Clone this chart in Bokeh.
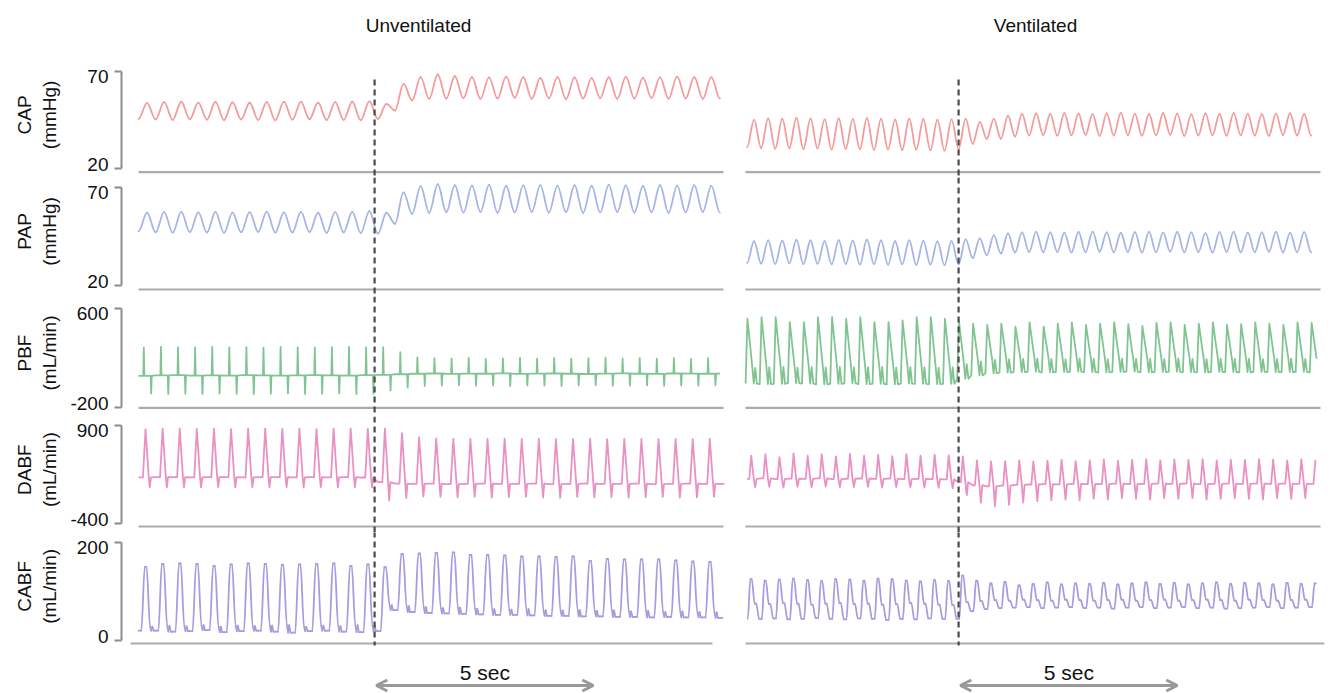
import math
from bokeh.plotting import figure
from bokeh.layouts import column, row
from bokeh.models import Range1d, FixedTicker, Span, Label, Arrow, OpenHead
from bokeh.core.properties import value
from bokeh.embed import file_html
from bokeh.resources import INLINE

# ---------------- data ----------------
panel_titles = ["Unventilated", "Ventilated"]
beat_period = [0.394, 0.325]          # s per beat (left, right)
first_beat = [0.0, 0.035]             # s
trace_end = [13.50, 13.18]            # s
event_time = [5.44, 4.91]             # s (dashed line)
scale_bar_start = [5.48, 4.95]        # s
scale_bar_sec = 5
scale_bar_label = "5 sec"

channels = ["CAP", "PAP", "PBF", "DABF", "CABF"]
units = ["(mmHg)", "(mmHg)", "(mL/min)", "(mL/min)", "(mL/min)"]
tick_lo = [20, 20, -200, -400, 0]
tick_hi = [70, 70, 600, 900, 200]

# ---- Unventilated (14 beats before event, 21 after) ----
L_CAP_hi = [53.6, 54.1, 54.3, 53.9, 54.2, 54.0, 53.8, 54.1, 54.4, 54.2, 53.9, 54.1, 54.3, 54.5,
            53.2, 63.5, 67.0, 68.3, 67.4, 67.0, 66.8, 67.2, 66.9, 66.5, 67.0, 66.8, 66.4, 66.9, 67.1, 66.6, 66.8, 67.2, 66.9, 67.0, 66.5]
L_CAP_lo = [45.5, 45.2, 45.0, 45.3, 45.1, 44.9, 45.2, 45.0, 44.8, 45.1, 45.3, 44.9, 45.0, 44.8,
            45.5, 49.8, 55.0, 55.8, 56.0, 56.2, 55.8, 56.0, 56.3, 55.9, 56.1, 55.7, 56.0, 56.2, 55.8, 56.0, 56.3, 55.9, 56.1, 55.8, 56.0]
L_PAP_hi = [57.0, 57.3, 57.5, 57.2, 57.4, 57.1, 57.3, 57.6, 57.2, 57.4, 57.0, 57.3, 57.5, 57.8,
            57.0, 67.4, 70.5, 71.5, 71.0, 70.8, 71.2, 70.6, 70.9, 71.1, 70.7, 71.0, 70.8, 71.2, 70.9, 70.6, 71.0, 70.8, 71.1, 70.7, 70.9]
L_PAP_lo = [47.5, 47.1, 46.9, 47.2, 47.0, 46.8, 47.1, 47.3, 46.9, 47.0, 47.2, 46.8, 47.0, 46.7,
            46.4, 51.4, 56.5, 57.0, 57.3, 57.1, 57.4, 57.0, 57.2, 57.5, 57.1, 57.3, 57.0, 57.2, 57.4, 57.1, 57.3, 57.0, 57.2, 57.4, 57.1]
L_PBF_hi = [285, 290, 288, 286, 291, 287, 289, 285, 290, 288, 286, 289, 291, 287,
            288, 247, 205, 198, 195, 200, 193, 197, 201, 195, 199, 194, 198, 202, 196, 200, 195, 199, 193, 198, 201]
L_PBF_mid = [55, 58, 60, 57, 59, 56, 60, 58, 57, 59, 61, 58, 57, 60,
             62, 68, 72, 74, 71, 73, 72, 75, 71, 73, 74, 72, 70, 73, 75, 72, 71, 74, 73, 72, 74]
L_PBF_lo = [-88, -92, -90, -93, -89, -91, -94, -90, -88, -92, -90, -89, -93, -91,
            -64, -40, -28, -25, -22, -26, -24, -27, -23, -25, -28, -24, -22, -26, -25, -23, -27, -24, -26, -22, -25]
L_DABF_hi = [850, 857, 860, 855, 858, 852, 857, 860, 855, 858, 853, 857, 860, 856,
             860, 800, 745, 730, 725, 724, 722, 726, 722, 725, 720, 722, 726, 720, 722, 724, 720, 723, 720, 724, 722]
L_DABF_mid = [214, 218, 216, 215, 217, 216, 213, 218, 216, 215, 217, 214, 216, 212,
              150, 132, 128, 130, 126, 129, 131, 127, 129, 130, 126, 128, 131, 127, 129, 130, 126, 128, 130, 127, 129]
L_DABF_lo = [84, 80, 86, 82, 85, 81, 84, 83, 86, 80, 84, 82, 85, 83,
             -92, -60, -40, -45, -50, -42, -55, -48, -45, -52, -58, -44, -50, -47, -55, -49, -46, -53, -50, -45, -52]
L_CABF_hi = [150, 156, 157, 156, 152, 155, 157, 156, 154, 155, 156, 157, 152, 155,
             149, 176, 177, 178, 179, 174, 174, 173, 171, 171, 170, 171, 162, 166, 165, 165, 165, 163, 161, 160, 158]
L_CABF_mid = [28, 30, 29, 31, 28, 30, 29, 30, 31, 28, 30, 29, 31, 30,
              72, 70, 68, 66, 67, 65, 64, 63, 64, 62, 61, 62, 60, 61, 59, 60, 58, 59, 58, 57, 58]
L_CABF_lo = [20, 18, 19, 21, 17, 19, 20, 18, 16, 19, 20, 18, 17, 19,
             62, 58, 56, 55, 54, 53, 52, 52, 51, 50, 50, 49, 49, 48, 48, 47, 48, 47, 47, 46, 47]

# ---- Ventilated (15 beats before event, 26 after) ----
R_CAP_hi = [45.0, 45.8, 45.5, 46.0, 45.6, 45.2, 45.8, 45.4, 45.9, 45.5, 45.1, 45.6, 45.3, 45.0, 45.2,
            45.5, 43.8, 45.5, 47.2, 48.1, 48.3, 48.0, 48.5, 48.2, 47.9, 48.3, 48.6, 48.1, 48.0, 48.4, 48.2, 47.8, 48.3, 48.0, 48.5, 48.1, 47.9, 48.2, 48.4, 48.0, 47.7]
R_CAP_lo = [31.0, 30.5, 30.2, 30.4, 30.0, 30.3, 29.8, 30.1, 30.0, 29.6, 29.9, 29.5, 29.8, 29.4, 29.2,
            30.1, 32.7, 35.3, 35.3, 36.5, 37.0, 37.2, 36.9, 37.1, 37.3, 36.8, 37.0, 37.2, 36.9, 37.1, 37.4, 36.8, 37.0, 37.2, 36.9, 37.1, 37.0, 36.8, 37.2, 37.0, 36.9]
R_PAP_hi = [42.5, 43.0, 42.8, 43.2, 42.9, 42.6, 43.1, 42.8, 43.3, 42.9, 42.5, 43.0, 42.7, 42.4, 42.6,
            43.5, 44.0, 45.5, 46.5, 47.0, 47.3, 47.0, 46.8, 47.2, 47.4, 47.0, 46.7, 47.1, 47.3, 46.9, 47.2, 47.0, 46.6, 47.1, 47.3, 46.9, 47.0, 47.2, 46.8, 47.1, 46.9]
R_PAP_lo = [31.5, 31.2, 31.0, 31.3, 30.9, 31.1, 30.8, 31.0, 30.7, 30.9, 30.6, 30.8, 30.5, 30.7, 30.4,
            30.8, 34.0, 35.5, 36.3, 36.8, 37.0, 36.9, 37.1, 36.8, 37.0, 37.2, 36.9, 37.1, 36.8, 37.0, 37.2, 36.9, 37.0, 36.8, 37.1, 36.9, 37.0, 37.2, 36.8, 37.0, 36.9]
R_PBF_hi = [519, 532, 532, 491, 491, 532, 532, 519, 532, 491, 491, 505, 532, 532, 519,
            495, 480, 470, 480, 455, 490, 455, 480, 490, 470, 480, 490, 475, 460, 485, 490, 470, 480, 490, 470, 475, 490, 480, 470, 490, 485]
R_PBF_mid = [120, 125, 128, 122, 126, 124, 127, 123, 125, 128, 122, 126, 124, 121, 125,
             150, 172, 185, 190, 193, 195, 192, 190, 196, 193, 191, 195, 192, 194, 190, 196, 193, 191, 195, 192, 194, 190, 193, 195, 192, 194]
R_PBF_lo = [-8, -12, -10, -5, -9, -14, -10, -7, -12, -10, -15, -9, -11, -13, -10,
            30, 58, 75, 82, 85, 88, 84, 86, 90, 85, 83, 87, 89, 84, 86, 88, 85, 83, 87, 86, 84, 88, 85, 86, 87, 84]
R_DABF_hi = [500, 520, 480, 530, 500, 520, 490, 525, 500, 510, 495, 520, 500, 515, 505,
             490, 440, 425, 430, 440, 425, 435, 445, 430, 440, 450, 435, 445, 455, 440, 450, 445, 455, 440, 450, 445, 455, 450, 440, 455, 445]
R_DABF_mid = [195, 200, 190, 198, 194, 202, 192, 196, 199, 193, 197, 191, 195, 190, 188,
              150, 110, 95, 105, 115, 120, 125, 122, 128, 124, 126, 130, 125, 128, 132, 127, 130, 126, 129, 132, 128, 130, 127, 131, 129, 128]
R_DABF_lo = [84, 90, 80, 88, 82, 92, 86, 84, 90, 80, 86, 82, 78, 74, 70,
             -20, -120, -170, -150, -120, -100, -90, -80, -90, -70, -80, -60, -70, -80, -60, -70, -60, -80, -70, -60, -70, -80, -60, -70, -60, -70]
R_CABF_hi = [125, 122, 124, 126, 123, 121, 125, 124, 122, 126, 125, 122, 120, 123, 121,
             132, 122, 116, 119, 112, 115, 118, 114, 116, 115, 117, 114, 116, 118, 115, 117, 114, 116, 118, 115, 117, 116, 114, 117, 115, 116]
R_CABF_mid = [75, 74, 76, 75, 73, 75, 76, 74, 75, 73, 74, 76, 75, 73, 72,
              78, 80, 82, 81, 83, 82, 81, 83, 82, 81, 82, 83, 81, 82, 83, 81, 82, 83, 82, 81, 83, 82, 81, 82, 83, 82]
R_CABF_lo = [44, 45, 43, 44, 46, 44, 43, 45, 44, 42, 44, 43, 45, 44, 44,
             60, 64, 66, 67, 68, 66, 67, 68, 66, 67, 65, 67, 68, 66, 67, 68, 66, 67, 65, 66, 67, 68, 66, 67, 68, 66]

# ---------------- beat shapes (phase within beat -> which level) ----------------
TPL_PRESS = [(0.0, "lo"), (0.5, "hi")]
TPL = {
    (0, "CAP"): TPL_PRESS, (0, "PAP"): TPL_PRESS,
    (0, "PBF"): [(0.00, "mid"), (0.28, "mid"), (0.31, "hi"), (0.345, "mid"), (0.71, "mid"), (0.74, "lo"), (0.775, "mid")],
    (0, "DABF"): [(0.00, "mid"), (0.26, "mid"), (0.41, "hi"), (0.60, "mid"), (0.66, "lo"), (0.73, "mid")],
    (0, "CABF"): [(0.00, "plo"), (0.16, "plo"), (0.37, "hi"), (0.47, "hi"), (0.68, "mid"), (0.75, "lo"), (0.81, "mid"), (0.89, "lo")],
    (1, "CAP"): TPL_PRESS, (1, "PAP"): TPL_PRESS,
    (1, "PBF"): [(-0.10, "lo"), (0.03, "hi"), (0.38, "mid"), (0.48, "lo"), (0.58, "mid"), (0.70, "lo")],
    (1, "DABF"): [(0.00, "mid"), (0.16, "mid"), (0.30, "hi"), (0.48, "mid"), (0.58, "lo"), (0.68, "mid")],
    (1, "CABF"): [(0.05, "plo"), (0.24, "hi"), (0.33, "hi"), (0.55, "mid"), (0.65, "mid"), (0.86, "lo")],
}
SMOOTH = {"CAP": True, "PAP": True, "PBF": False, "DABF": False, "CABF": True}
LEVELS = {
    (0, "CAP"): dict(hi=L_CAP_hi, lo=L_CAP_lo),
    (0, "PAP"): dict(hi=L_PAP_hi, lo=L_PAP_lo),
    (0, "PBF"): dict(hi=L_PBF_hi, mid=L_PBF_mid, lo=L_PBF_lo),
    (0, "DABF"): dict(hi=L_DABF_hi, mid=L_DABF_mid, lo=L_DABF_lo),
    (0, "CABF"): dict(hi=L_CABF_hi, mid=L_CABF_mid, lo=L_CABF_lo),
    (1, "CAP"): dict(hi=R_CAP_hi, lo=R_CAP_lo),
    (1, "PAP"): dict(hi=R_PAP_hi, lo=R_PAP_lo),
    (1, "PBF"): dict(hi=R_PBF_hi, mid=R_PBF_mid, lo=R_PBF_lo),
    (1, "DABF"): dict(hi=R_DABF_hi, mid=R_DABF_mid, lo=R_DABF_lo),
    (1, "CABF"): dict(hi=R_CABF_hi, mid=R_CABF_mid, lo=R_CABF_lo),
}

COLORS = {"CAP": "#f39c9b", "PAP": "#a6b5e6", "PBF": "#80c591", "DABF": "#ea91c4", "CABF": "#a59ddf"}
FONT = "Liberation Sans"


def build_trace(side, ch):
    tpl = TPL[(side, ch)]
    lv = LEVELS[(side, ch)]
    n = min(len(v) for v in lv.values())
    ts, ys = [], []
    for i in range(n):
        for ph, key in tpl:
            t = first_beat[side] + (i + ph) * beat_period[side]
            if key == "plo":
                v = lv["lo"][i - 1] if i > 0 else lv["lo"][0]
            else:
                v = lv[key][i]
            if 0 <= t <= trace_end[side]:
                ts.append(t)
                ys.append(v)
    return ts, ys


def draw_trace(p, ts, ys, color, smooth):
    style = dict(line_color=color, line_width=1.8)
    if not smooth:
        p.line(ts, ys, line_join="round", **style)
        return
    # smooth pulse: each step between read points drawn as a curve with flat ends
    c = 0.36
    x0, x1, y0, y1 = ts[:-1], ts[1:], ys[:-1], ys[1:]
    cx0 = [a + c * (b - a) for a, b in zip(x0, x1)]
    cx1 = [b - c * (b - a) for a, b in zip(x0, x1)]
    p.bezier(x0=x0, y0=y0, x1=x1, y1=y1, cx0=cx0, cy0=y0, cx1=cx1, cy1=y1,
             line_cap="round", **style)


# ---------------- layout (page pixels) ----------------
PX_PER_S = 43.4
TOTAL_H = 693
LBL_W = 109
row_top = [0, 177, 296, 416, 532]
row_bot = [177, 296, 416, 532, 693]
tick_px_lo = [168.0, 285.0, 406.7, 523.3, 640.0]
tick_px_hi = [70.7, 186.7, 308.3, 425.0, 541.7]
base_px = [171.7, 289.0, 407.3, 526.0, 643.0]
# frame left, frame right, x of t=0, canvas left, canvas right
FRAME = {0: (121, 730, 138, LBL_W, 735), 1: (740, 1324, 745, 735, 1332)}
BASE_X = {0: [(138, 723)] * 4 + [(130, 712)], 1: [(745, 1320)] * 4 + [(745, 1324)]}
TITLE_CX = [418, 1035]
TITLE_Y = 25
NAME_X, UNIT_X, TICKLAB_X = 24, 49, 108
TICKLAB_DY_HI, TICKLAB_DY_LO = 5, -4
DASH_TOP_PX, DASH_BOT_PX = 79, 645
ARROW_Y, SCALE_TEXT_Y = 685, 672


def make_fig(side, r):
    ch = channels[r]
    top, bot = row_top[r], row_bot[r]
    lo, hi = tick_lo[r], tick_hi[r]
    k = (tick_px_lo[r] - tick_px_hi[r]) / (hi - lo)
    y0 = lo - (bot - tick_px_lo[r]) / k
    y1 = hi + (tick_px_hi[r] - top) / k

    def yv(px):
        return lo + (tick_px_lo[r] - px) / k

    fx0, fx1, org, cx0, cx1 = FRAME[side]

    def tv(px):
        return (px - org) / PX_PER_S

    p = figure(width=cx1 - cx0, height=bot - top,
               x_range=Range1d(tv(fx0), tv(fx1)), y_range=Range1d(y0, y1),
               output_backend="svg", toolbar_location=None, title=None,
               x_axis_location=None, y_axis_location=("left" if side == 0 else None),
               min_border_left=fx0 - cx0, min_border_right=cx1 - fx1,
               min_border_top=0, min_border_bottom=0)
    p.outline_line_color = None
    p.xgrid.visible = False
    p.ygrid.visible = False
    p.background_fill_color = "white"
    p.border_fill_color = "white"

    if side == 0:
        ax = p.yaxis[0]
        ax.ticker = FixedTicker(ticks=[lo, hi])
        ax.bounds = (lo, hi)
        ax.axis_line_color = "#8c8c8c"
        ax.axis_line_width = 2
        ax.major_tick_line_color = "#8c8c8c"
        ax.major_tick_line_width = 2
        ax.major_tick_out = 7
        ax.major_tick_in = 0
        ax.minor_tick_line_color = None
        # tick numbers are written in the full-height label column (so they are never clipped)
        ax.major_label_standoff = 0
        ax.major_label_text_font_size = "0px"
        ax.major_label_text_alpha = 0

    # baseline
    bx0, bx1 = BASE_X[side][r]
    p.segment(x0=[tv(bx0)], y0=[yv(base_px[r])], x1=[tv(bx1)], y1=[yv(base_px[r])],
              line_color="#ababab", line_width=2.2)

    # trace
    ts, ys = build_trace(side, ch)
    draw_trace(p, ts, ys, COLORS[ch], SMOOTH[ch])

    # dashed event line
    te = event_time[side]
    dash = dict(line_color="#4a4a4a", line_width=2.2, line_dash="6 4")
    if r == 0:
        p.segment(x0=[te], y0=[yv(DASH_TOP_PX)], x1=[te], y1=[y0 - (y1 - y0)], **dash)
        p.add_layout(Label(x=tv(TITLE_CX[side]), y=yv(TITLE_Y), text=panel_titles[side],
                           text_align="center", text_baseline="middle",
                           text_font=FONT, text_font_size="19px", text_color="#111111"))
    elif r == len(channels) - 1:
        p.segment(x0=[te], y0=[y1 + (y1 - y0)], x1=[te], y1=[yv(DASH_BOT_PX)], **dash)
        xs = scale_bar_start[side]
        p.add_layout(Arrow(x_start=xs, y_start=yv(ARROW_Y), x_end=xs + scale_bar_sec, y_end=yv(ARROW_Y),
                           line_color="#9a9a9a", line_width=3,
                           start=OpenHead(size=11, line_color="#9a9a9a", line_width=3),
                           end=OpenHead(size=11, line_color="#9a9a9a", line_width=3)))
        p.add_layout(Label(x=xs + scale_bar_sec / 2, y=yv(SCALE_TEXT_Y), text=scale_bar_label,
                           text_align="center", text_baseline="middle",
                           text_font=FONT, text_font_size="21px", text_color="#111111"))
    else:
        p.add_layout(Span(location=te, dimension="height", **dash))
    return p


# label column: channel names, units and tick numbers (page-pixel coordinates, y downward)
lab = figure(width=LBL_W, height=TOTAL_H, x_range=Range1d(0, LBL_W), y_range=Range1d(TOTAL_H, 0),
             output_backend="svg", toolbar_location=None, title=None,
             x_axis_location=None, y_axis_location=None,
             min_border_left=0, min_border_right=0, min_border_top=0, min_border_bottom=0)
lab.outline_line_color = None
lab.xgrid.visible = False
lab.ygrid.visible = False
name_y = [(a + b) / 2 - 5 for a, b in zip(tick_px_lo, tick_px_hi)]
lab.text(x=[NAME_X] * len(channels) + [UNIT_X] * len(channels), y=name_y + name_y,
         text=channels + units, angle=math.pi / 2, text_align="center", text_baseline="middle",
         text_font=value(FONT), text_font_size="19px", text_color="#111111")
tick_text = [str(v) for v in tick_hi] + [str(v) for v in tick_lo]
tick_y = [py + TICKLAB_DY_HI for py in tick_px_hi] + [py + TICKLAB_DY_LO for py in tick_px_lo]
lab.text(x=[TICKLAB_X] * len(tick_text), y=tick_y, text=tick_text,
         text_align="right", text_baseline="middle",
         text_font=value(FONT), text_font_size="19px", text_color="#111111")

grid_rows = [row(make_fig(0, r), make_fig(1, r)) for r in range(len(channels))]
layout = row(lab, column(*grid_rows))

open("out.html", "w").write(file_html(layout, INLINE))
